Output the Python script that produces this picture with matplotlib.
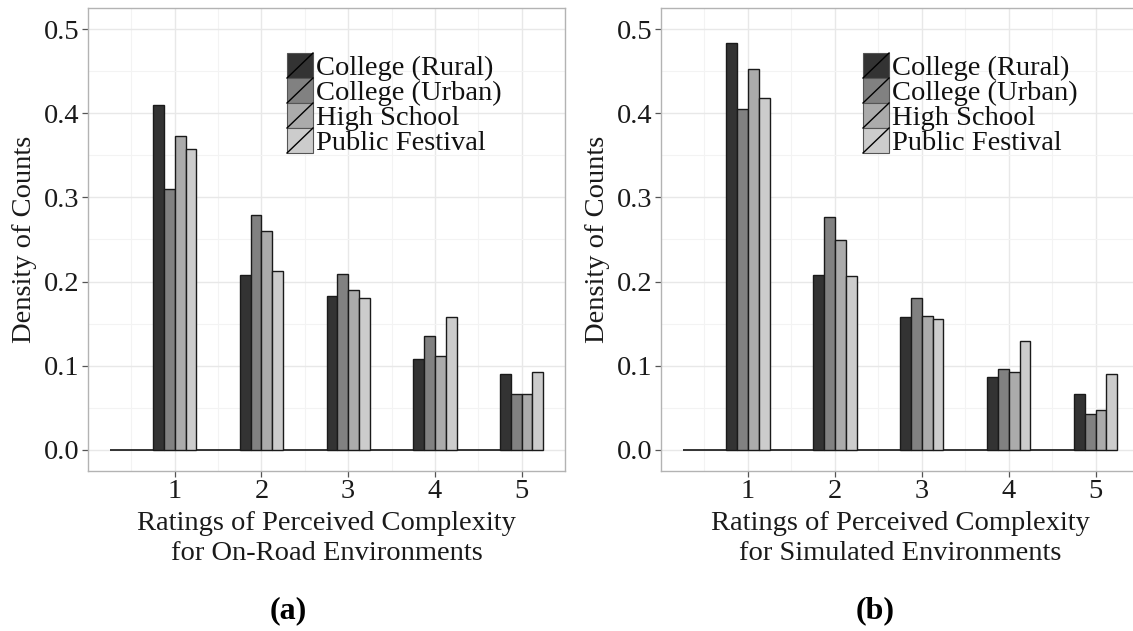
import numpy as np
import matplotlib
matplotlib.use("Agg")
import matplotlib.pyplot as plt
from matplotlib.patches import Rectangle

plt.rcParams['font.family'] = ['Liberation Serif', 'DejaVu Serif']

# Data ---------------------------------------------------

ratings = [1, 2, 3, 4, 5]
groups = ['College (Rural)', 'College (Urban)', 'High School', 'Public Festival']
fills = ['#333333', '#818181', '#ababab', '#cccccc']

# density of counts, on-road environments (a)
onroad_rural = [0.410, 0.208, 0.183, 0.108, 0.090]
onroad_urban = [0.310, 0.279, 0.209, 0.135, 0.067]
onroad_high = [0.373, 0.260, 0.190, 0.112, 0.066]
onroad_fest = [0.357, 0.212, 0.180, 0.158, 0.093]

# density of counts, simulated environments (b)
sim_rural = [0.483, 0.208, 0.158, 0.087, 0.066]
sim_urban = [0.405, 0.277, 0.181, 0.096, 0.043]
sim_high = [0.453, 0.250, 0.159, 0.093, 0.047]
sim_fest = [0.418, 0.207, 0.156, 0.130, 0.090]

xlabels = ['Ratings of Perceived Complexity\nfor On-Road Environments',
           'Ratings of Perceived Complexity\nfor Simulated Environments']
panel_tags = ['(a)', '(b)']

# Layout (figure fractions) ------------------------------

W, H = 1133, 631
bw = 0.125                                                  # bar width


def px_axes(x0, x1, y_top, y_bot):
    return [x0 / W, 1 - y_bot / H, (x1 - x0) / W, (y_bot - y_top) / H]


def draw_panel(ax, series, xlabel, leg_x, leg_top):
    ax.set_xlim(0, 5.5)
    ax.set_ylim(-0.025, 0.525)

    # grid like ggplot theme_bw
    ax.set_xticks(ratings)
    ax.set_xticks(np.arange(0.5, 5.6, 1.0), minor=True)
    ax.set_yticks(np.arange(0, 0.51, 0.1))
    ax.set_yticks(np.arange(0.05, 0.51, 0.1), minor=True)
    ax.grid(which='major', color='#e8e8e8', lw=1.0)
    ax.grid(which='minor', color='#f3f3f3', lw=0.8)
    ax.set_axisbelow(True)
    ax.tick_params(which='minor', length=0)
    ax.tick_params(which='major', length=4, width=0.9, color='#555555',
                   labelsize=20.5, labelcolor='#1a1a1a', pad=2)
    ax.set_yticklabels(['0.0', '0.1', '0.2', '0.3', '0.4', '0.5'])
    for s in ax.spines.values():
        s.set_color('#b3b3b3')
        s.set_linewidth(1.0)

    ax.hlines(0, 0.25, 5.25, color='black', lw=1.1, zorder=2)
    x = np.array(ratings, dtype=float)
    for j, vals in enumerate(series):
        ax.bar(x + (j - 1.5) * bw, vals, width=bw, color=fills[j],
               edgecolor='#1a1a1a', linewidth=1.0, zorder=3)

    ax.set_xlabel(xlabel, fontsize=20.5, linespacing=1.25, labelpad=5,
                  color='#1a1a1a')
    ax.set_ylabel('Density of Counts', fontsize=20.5, labelpad=5,
                  color='#1a1a1a')

    # legend keys with the diagonal slash
    kw, kh = 26 / 477, 25 / 463
    for j, name in enumerate(groups):
        y0 = leg_top - (j + 1) * kh
        ax.add_patch(Rectangle((leg_x, y0), kw, kh, transform=ax.transAxes,
                               facecolor=fills[j], edgecolor='#555555',
                               lw=0.8, zorder=5, clip_on=False))
        ax.plot([leg_x, leg_x + kw], [y0, y0 + kh], transform=ax.transAxes,
                color='black', lw=1.0, zorder=6, clip_on=False)
        ax.text(leg_x + kw + 3 / 477, y0 + 3 / 463, name,
                transform=ax.transAxes, fontsize=20.5, va='baseline',
                ha='left', color='#111111', zorder=6)


fig = plt.figure(figsize=(W / 100, H / 100), dpi=100)
ax1 = fig.add_axes(px_axes(88, 565, 8, 471))
ax2 = fig.add_axes(px_axes(661, 1139, 8, 471))

draw_panel(ax1, [onroad_rural, onroad_urban, onroad_high, onroad_fest],
           xlabels[0], (287 - 88) / 477, (471 - 53) / 463)
draw_panel(ax2, [sim_rural, sim_urban, sim_high, sim_fest],
           xlabels[1], (863 - 661) / 478, (471 - 53) / 463)

fig.text(288 / W, 1 - 611 / H, panel_tags[0], fontsize=23, fontweight='bold',
         ha='center', va='center')
fig.text(875 / W, 1 - 611 / H, panel_tags[1], fontsize=23, fontweight='bold',
         ha='center', va='center')

fig.savefig('out.png', dpi=100)
